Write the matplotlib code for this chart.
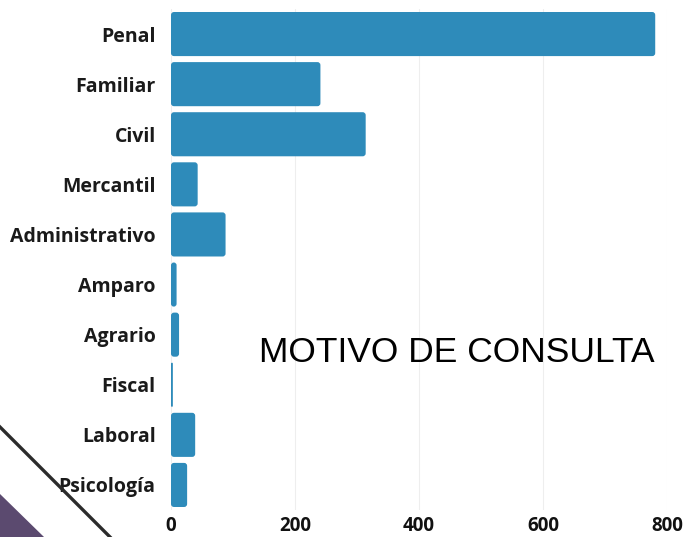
import matplotlib
matplotlib.use("Agg")
import matplotlib.pyplot as plt
from matplotlib.patches import FancyBboxPatch, Polygon
from matplotlib.lines import Line2D

categories = ["Penal", "Familiar", "Civil", "Mercantil", "Administrativo",
              "Amparo", "Agrario", "Fiscal", "Laboral", "Psicología"]
values = [781, 241, 314, 43, 88, 9, 13, 3, 39, 26]
xticks = [0, 200, 400, 600, 800]
title = "MOTIVO DE CONSULTA"

W, H = 684, 537
fig = plt.figure(figsize=(W / 100, H / 100), dpi=100)
fig.patch.set_facecolor("white")

ax_l, ax_r, ax_t, ax_b = 171, 667, 9, 510
ax = fig.add_axes([ax_l / W, 1 - ax_b / H, (ax_r - ax_l) / W, (ax_b - ax_t) / H])

bar_color = "#2e8bba"
pos = list(range(len(categories)))
bars = ax.barh(pos, values, height=0.88, color=bar_color, zorder=2)

ax.set_xlim(0, 800)
ax.set_ylim(len(categories) - 0.5, -0.5)

# rounded corners
px_per_x = (ax_r - ax_l) / 800
px_per_y = (ax_b - ax_t) / len(categories)
aspect = (1 / px_per_y) / (1 / px_per_x)
for b in bars:
    x, y = b.get_x(), b.get_y()
    w, h = b.get_width(), b.get_height()
    r = min(3 / px_per_x, w / 2)
    p = FancyBboxPatch((x, y), w, h,
                       boxstyle=f"round,pad=0,rounding_size={r}",
                       mutation_aspect=aspect, facecolor=bar_color,
                       edgecolor="none", zorder=2)
    ax.add_patch(p)
    b.set_visible(False)

ax.set_yticks(pos)
ax.set_yticklabels(categories, fontfamily="Open Sans", fontweight="bold",
                   fontsize=14, color="#1a1a1a")
ax.set_xticks(xticks)
ax.set_xticklabels([str(t) for t in xticks], fontfamily="Open Sans",
                   fontweight="bold", fontsize=13.5, color="#111111")
ax.tick_params(axis="both", length=0)
ax.tick_params(axis="y", pad=11)
ax.tick_params(axis="x", pad=4)
for s in ax.spines.values():
    s.set_visible(False)
ax.grid(axis="x", color="#eeeeee", linewidth=0.8, zorder=0)
ax.set_axisbelow(True)
ax.patch.set_alpha(0)

fig.text(457 / W, 1 - 353 / H, title, ha="center", va="center",
         fontfamily="Liberation Sans", fontsize=25.5, color="black")

# decorations bottom-left
tri = Polygon([(0 / W, 1 - 494 / H), (44 / W, 0), (0, 0)], closed=True,
              transform=fig.transFigure, facecolor="#5b4a6f", edgecolor="none",
              zorder=0)
fig.patches.append(tri)
ln = Line2D([0, 110 / W], [1 - 427 / H, 0], transform=fig.transFigure,
            color="#2b2b2b", linewidth=2.4, zorder=5)
fig.lines.append(ln)

fig.savefig("out.png", dpi=100)
